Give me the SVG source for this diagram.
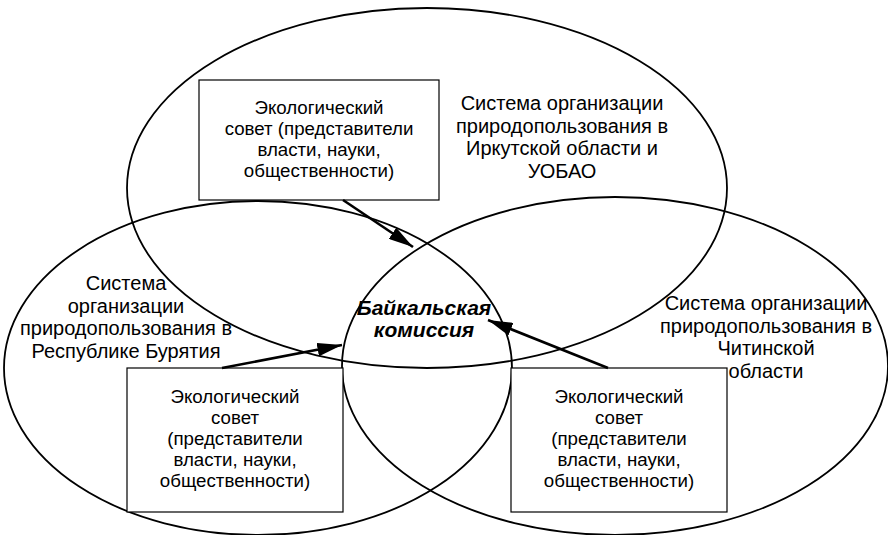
<svg xmlns="http://www.w3.org/2000/svg" width="888" height="535" viewBox="0 0 888 535">
<defs>
<style>
.ell{fill:none;stroke:#000;stroke-width:1.8}
.box{fill:#fff;stroke:#000;stroke-width:1.2}
.t{font-family:"Liberation Sans",Arial,sans-serif;font-size:18.7px;fill:#000;text-anchor:middle}
.lbl{font-family:"Liberation Sans",Arial,sans-serif;font-size:20px;fill:#000;text-anchor:middle}
.ctr{font-family:"Liberation Sans",Arial,sans-serif;font-size:21px;font-weight:bold;font-style:italic;fill:#000;text-anchor:middle}
.arr{fill:none;stroke:#000;stroke-width:2.6}
</style>
<marker id="ah" viewBox="0 0 10 10" refX="10" refY="5" markerWidth="9.5" markerHeight="5.2" markerUnits="strokeWidth" orient="auto" preserveAspectRatio="none">
<path d="M0,0 L10,5 L0,10 Z" fill="#000"/>
</marker>
</defs>
<rect width="888" height="535" fill="#fff"/>
<g id="ellipses">
<ellipse id="irkutsk" class="ell" cx="427" cy="188" rx="300" ry="180"/>
<ellipse id="buryatia" class="ell" cx="258" cy="368" rx="254" ry="167"/>
<ellipse id="chita" class="ell" cx="615" cy="366" rx="273" ry="169"/>
</g>
<g id="label-irkutsk">
<text class="lbl" x="562" y="110">Система организации</text>
<text class="lbl" x="562" y="132.5">природопользования в</text>
<text class="lbl" x="562" y="155">Иркутской области и</text>
<text class="lbl" x="562" y="177.5">УОБАО</text>
</g>
<g id="label-buryatia">
<text class="lbl" x="126" y="290">Система</text>
<text class="lbl" x="126" y="312.5">организации</text>
<text class="lbl" x="126" y="335">природопользования в</text>
<text class="lbl" x="126" y="357.5">Республике Бурятия</text>
</g>
<g id="label-chita">
<text class="lbl" x="766" y="310">Система организации</text>
<text class="lbl" x="766" y="332.5">природопользования в</text>
<text class="lbl" x="766" y="355">Читинской</text>
<text class="lbl" x="766" y="377.5">области</text>
</g>
<g id="baikal-commission">
<text class="ctr" x="424" y="315">Байкальская</text>
<text class="ctr" x="424" y="337">комиссия</text>
</g>
<g id="council-irkutsk">
<rect class="box" x="199" y="80" width="240" height="120"/>
<text class="t" x="319" y="114">Экологический</text>
<text class="t" x="319" y="135">совет (представители</text>
<text class="t" x="319" y="156">власти, науки,</text>
<text class="t" x="319" y="177">общественности)</text>
</g>
<g id="council-buryatia">
<rect class="box" x="127" y="368" width="216" height="144"/>
<text class="t" x="235" y="403">Экологический</text>
<text class="t" x="235" y="424">совет</text>
<text class="t" x="235" y="445">(представители</text>
<text class="t" x="235" y="466">власти, науки,</text>
<text class="t" x="235" y="487">общественности)</text>
</g>
<g id="council-chita">
<rect class="box" x="511" y="368" width="216" height="144"/>
<text class="t" x="619" y="403">Экологический</text>
<text class="t" x="619" y="424">совет</text>
<text class="t" x="619" y="445">(представители</text>
<text class="t" x="619" y="466">власти, науки,</text>
<text class="t" x="619" y="487">общественности)</text>
</g>
<g id="connectors">
<line class="arr" x1="343" y1="200" x2="413" y2="247" marker-end="url(#ah)"/>
<line class="arr" x1="222" y1="368" x2="342" y2="345" marker-end="url(#ah)"/>
<line class="arr" x1="608" y1="368" x2="488" y2="320" marker-end="url(#ah)"/>
</g>
</svg>
